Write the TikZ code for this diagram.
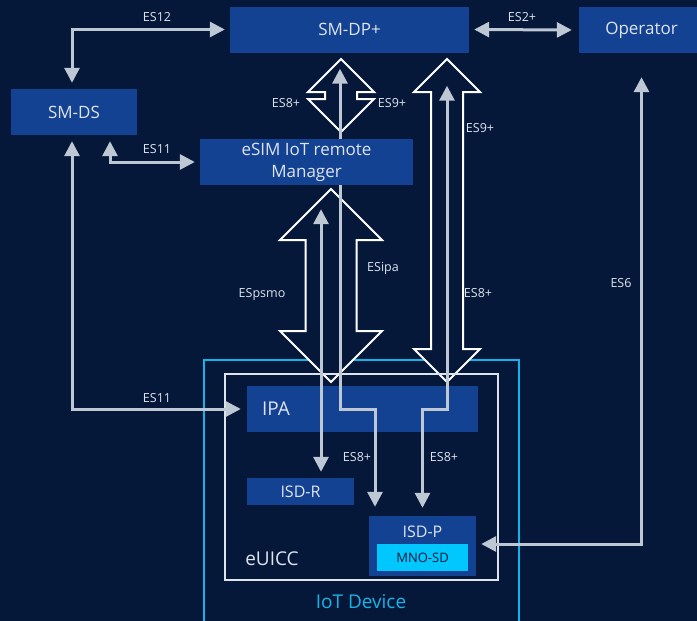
\documentclass[tikz,border=0pt]{standalone}
\usepackage{fontspec}
\setmainfont{Open Sans}
\usetikzlibrary{arrows.meta,calc}

\definecolor{navy}{RGB}{6,24,58}
\definecolor{boxblue}{RGB}{20,66,146}
\definecolor{wire}{RGB}{190,200,212}
\definecolor{ink}{RGB}{222,228,236}
\definecolor{devcyan}{RGB}{20,180,232}
\definecolor{sdcyan}{RGB}{0,200,255}

% hollow double arrow: x, top tip, bottom tip, half head, half shaft
\newcommand{\fatarrow}[5]{%
  \draw[fat] (#1,#2) -- (#1+#4,#2+#4) -- (#1+#5,#2+#4) -- (#1+#5,#3-#4) -- (#1+#4,#3-#4)
    -- (#1,#3) -- (#1-#4,#3-#4) -- (#1-#5,#3-#4) -- (#1-#5,#2+#4) -- (#1-#4,#2+#4) -- cycle;}

\begin{document}
\begin{tikzpicture}[x=1pt,y=-1pt,
    box/.style={fill=boxblue, text=ink, inner sep=0pt, font=\fontsize{17}{22}\selectfont},
    lbl/.style={text=ink, inner sep=0pt, font=\fontsize{12.5}{14}\selectfont},
    link/.style={draw=wire, line width=3pt,
      {Triangle[length=15pt,width=15pt]}-{Triangle[length=15pt,width=15pt]}},
    fat/.style={draw=white, fill=navy, line width=2pt}]
  \useasboundingbox (0,0) rectangle (697,621);
  \fill[navy] (0,0) rectangle (697,621);

  % device and card outlines
  \node[draw=devcyan, line width=2pt, minimum width=315pt, minimum height=266pt] (iot) at (361.5,493) {};
  \node[text=devcyan, inner sep=0pt, font=\fontsize{19}{22}\selectfont] (liot) at (361,602) {IoT Device};

  \fatarrow{341}{59}{132}{33}{16}
  \fatarrow{331}{189}{382}{51}{25.5}
  \fatarrow{447}{59}{382}{33}{16}

  \node[draw=ink, line width=2pt, minimum width=273pt, minimum height=206pt] (euicc) at (361.5,477) {};
  \node[text=ink, inner sep=0pt, font=\fontsize{19}{22}\selectfont] (leuicc) at (272,559) {eUICC};

  % boxes
  \node[box, minimum width=231pt, minimum height=46pt, text width=201pt, align=left,
    font=\fontsize{19}{22}\selectfont] (ipa) at (362.5,409) {IPA};
  \node[box, minimum width=107pt, minimum height=27pt, font=\fontsize{16}{18}\selectfont] (isdr) at (300.5,491.5) {ISD-R};
  \node[box, minimum width=107pt, minimum height=60pt,
    label={[text=ink, inner sep=0pt, font=\fontsize{16}{18}\selectfont, yshift=-16pt, anchor=center]north:ISD-P}] (isdp) at (422.5,546) {};
  \node[fill=sdcyan, text=navy, inner sep=0pt, minimum width=91pt, minimum height=27pt,
    font=\fontsize{13}{15}\selectfont] (mnosd) at (422.5,557.5) {MNO-SD};
  \node[box, minimum width=239pt, minimum height=46pt] (smdp) at (349.5,29.5) {SM-DP+};
  \node[box, minimum width=125pt, minimum height=46pt] (op) at (641.5,30) {Operator};
  \node[box, minimum width=126pt, minimum height=46pt] (smds) at (74,112) {SM-DS};

  % ES8+ through the remote manager
  \coordinate (p8a) at ($(isdp.north)+(-47.5,-9)$);
  \draw[link] ($(smdp.south)+(-9.5,16)$) |- (p8a |- ipa.center) -- (p8a);

  \node[box, minimum width=213pt, minimum height=46pt, align=center] (esim) at (306.5,162) {eSIM IoT remote\\Manager};

  % interfaces
  \coordinate (p8b) at ($(isdp.north)+(0,-8)$);
  \draw[link] ($(smdp.south)+(97.5,33)$) |- (p8b |- ipa.center) -- (p8b);
  \draw[link] ($(esim.south)+(14.5,24)$) -- ($(isdr.north)+(20.5,-6)$);
  \draw[link] ($(smdp.west)+(-5,0)$) -| ($(smds.north)+(-2,-6)$);
  \draw[link] ($(smdp.east)+(5,0)$) -- ($(op.west)+(-7,0)$);
  \draw[link] ($(smds.south)+(36,6)$) |- ($(esim.west)+(-5,0)$);
  \draw[link] ($(smds.south)+(-2,6)$) |- ($(ipa.west)+(-6,0)$);
  \draw[link] ($(op.south)+(0,24)$) |- ($(isdp.east)+(5,-2)$);

  % interface names
  \node[lbl] (l12) at (157,17) {ES12};
  \node[lbl] (l2) at (522,17) {ES2+};
  \node[lbl] (l11a) at (157,149) {ES11};
  \node[lbl] (l11b) at (157,398) {ES11};
  \node[lbl] (l8a) at (286,103) {ES8+};
  \node[lbl] (l9a) at (392,103) {ES9+};
  \node[lbl] (l9b) at (480,128) {ES9+};
  \node[lbl] (l8b) at (478,293) {ES8+};
  \node[lbl] (l6) at (621,283) {ES6};
  \node[lbl] (lipa) at (383,268) {ESipa};
  \node[lbl] (lpsmo) at (262,294) {ESpsmo};
  \node[lbl] (l8c) at (357,457) {ES8+};
  \node[lbl] (l8d) at (444,457) {ES8+};
\end{tikzpicture}
\end{document}
